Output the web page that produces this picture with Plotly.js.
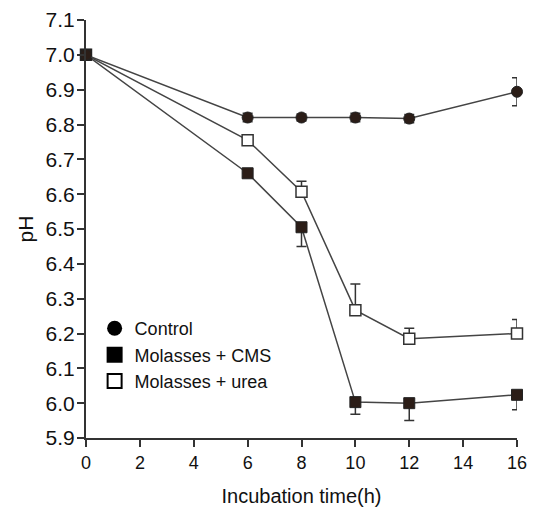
<!DOCTYPE html>
<html><head><meta charset="utf-8">
<script src="https://cdn.plot.ly/plotly-3.0.1.min.js"></script>
<style>html,body{margin:0;padding:0;background:#fff}</style>
</head><body>
<div id="chart" style="width:536px;height:513px"></div>
<script>
const timeH = [0, 6, 8, 10, 12, 16];
const controlPH = [7.0, 6.82, 6.82, 6.82, 6.817, 6.894];
const controlErrUp = [0, 0.012, 0.01, 0.012, 0.012, 0.04];
const controlErrDown = [0, 0.012, 0.01, 0.012, 0.012, 0.04];
const cmsPH = [7.0, 6.66, 6.505, 6.003, 6.0, 6.024];
const cmsErrUp = [0, 0, 0, 0, 0, 0];
const cmsErrDown = [0, 0.01, 0.055, 0.035, 0.05, 0.043];
const ureaPH = [7.0, 6.755, 6.607, 6.267, 6.185, 6.2];
const ureaErrUp = [0, 0, 0.03, 0.075, 0.03, 0.04];
const ureaErrDown = [0, 0, 0, 0, 0, 0];
const seriesNames = ['Control', 'Molasses + CMS', 'Molasses + urea'];
const xTicks = [0, 2, 4, 6, 8, 10, 12, 14, 16];

const dark = '#2b1d17';
const lineCol = '#444';
function errBar(up, down) {
  return {type: 'data', symmetric: false, array: up, arrayminus: down,
          color: '#333', thickness: 1.5, width: 5};
}
const traces = [
  {x: timeH, y: ureaPH, mode: 'lines+markers', showlegend: false, cliponaxis: false,
   line: {color: lineCol, width: 1.5},
   marker: {symbol: 'square', size: 11, color: '#fff', line: {color: '#333', width: 1.5}},
   error_y: errBar(ureaErrUp, ureaErrDown)},
  {x: timeH, y: cmsPH, mode: 'lines+markers', showlegend: false, cliponaxis: false,
   line: {color: lineCol, width: 1.5},
   marker: {symbol: 'square', size: 11, color: dark, line: {color: '#222', width: 1}},
   error_y: errBar(cmsErrUp, cmsErrDown)},
  {x: timeH, y: controlPH, mode: 'lines+markers', showlegend: false, cliponaxis: false,
   line: {color: lineCol, width: 1.5},
   marker: {symbol: 'circle', size: 11, color: dark, line: {color: '#222', width: 1}},
   error_y: errBar(controlErrUp, controlErrDown)},
  {x: [null], y: [null], mode: 'markers', name: seriesNames[0], legendgroup: 'a',
   marker: {symbol: 'circle', size: 15, color: '#000'}},
  {x: [null], y: [null], mode: 'markers', name: seriesNames[1], legendgroup: 'b',
   marker: {symbol: 'square', size: 16, color: '#000'}},
  {x: [null], y: [null], mode: 'markers', name: seriesNames[2], legendgroup: 'c',
   marker: {symbol: 'square', size: 14, color: '#fff', line: {color: '#000', width: 2}}}
];

const layout = {
  width: 536, height: 513,
  margin: {l: 86, r: 19, t: 20, b: 75},
  paper_bgcolor: '#fff', plot_bgcolor: '#fff',
  font: {family: 'Liberation Sans, Arial, sans-serif', color: '#111', size: 18},
  showlegend: true,
  legend: {x: 0.02, y: 0.306, xanchor: 'left', yanchor: 'top', bgcolor: 'rgba(0,0,0,0)',
           font: {size: 18, color: '#111'}, tracegroupgap: 0, itemwidth: 30},
  xaxis: {range: [0, 16], tickvals: xTicks, ticktext: xTicks.map(String),
          showgrid: false, zeroline: false, showline: true, linecolor: '#333', linewidth: 2,
          ticks: 'outside', ticklen: 7, tickwidth: 2, tickcolor: '#333',
          tickfont: {size: 18}, fixedrange: true,
          title: {text: 'Incubation time(h)', font: {size: 20}, standoff: 17}},
  yaxis: {range: [5.9, 7.1], dtick: 0.1, tick0: 5.9, tickformat: '.1f',
          showgrid: false, zeroline: false, showline: true, linecolor: '#333', linewidth: 2,
          ticks: 'outside', ticklen: 7, tickwidth: 2, tickcolor: '#333',
          tickfont: {size: 21}, fixedrange: true, ticklabelstandoff: -2,
          title: {text: 'pH', font: {size: 21}, standoff: 6}}
};
Plotly.newPlot('chart', traces, layout, {displayModeBar: false, staticPlot: true});
</script>
</body></html>
